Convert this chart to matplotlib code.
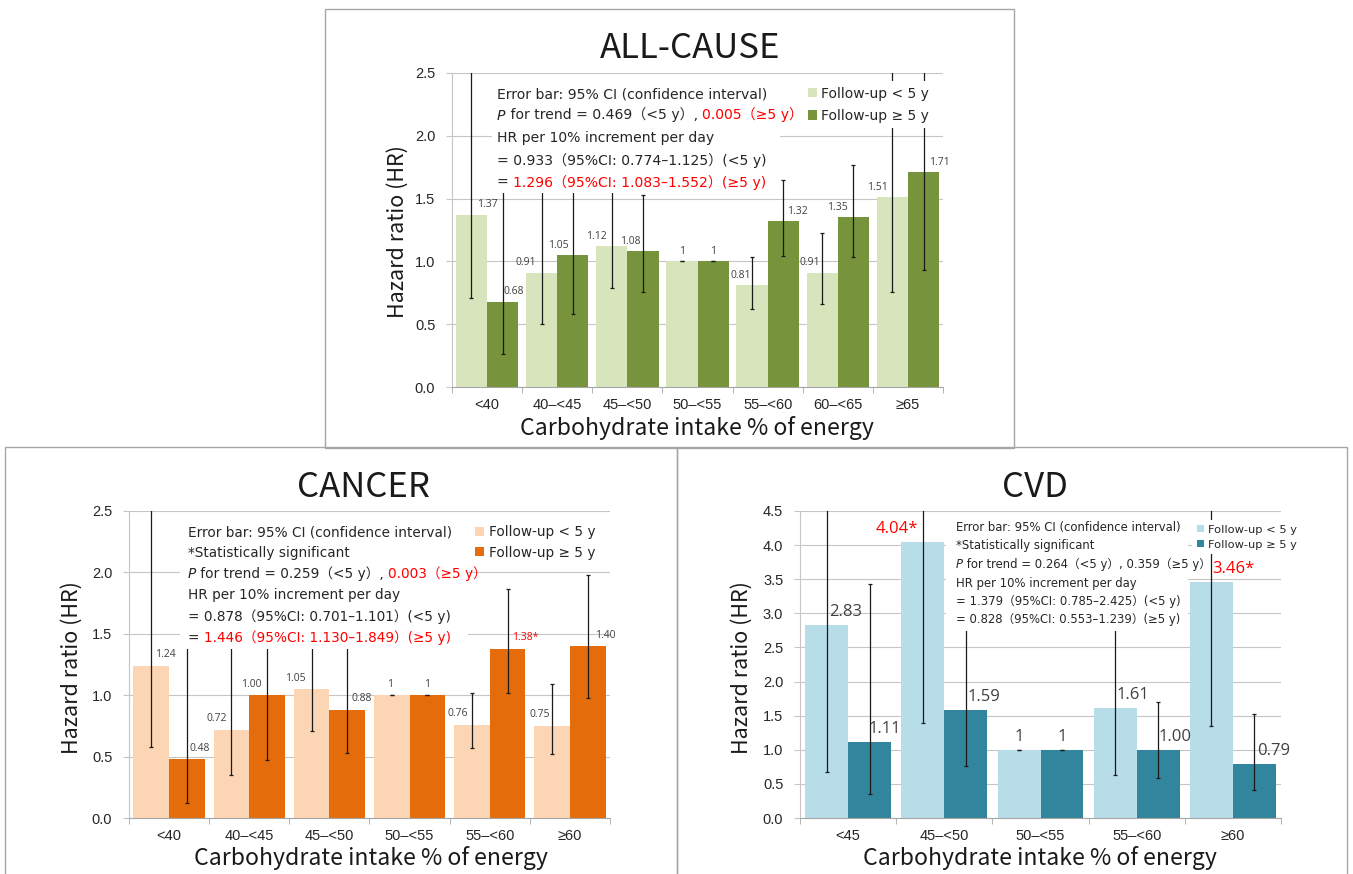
import matplotlib
matplotlib.use('Agg')
import matplotlib.pyplot as plt
from matplotlib.patches import Rectangle
import numpy as np

plt.rcParams['font.family'] = ['Noto Sans CJK JP', 'DejaVu Sans']

W, H = 1353, 874

# ---------------- data ----------------
# all-cause mortality
cats_all = ['<40', '40–<45', '45–<50', '50–<55', '55–<60', '60–<65', '≥65']
hr_all_s = [1.37, 0.91, 1.12, 1.00, 0.81, 0.91, 1.51]
lo_all_s = [0.705, 0.50, 0.785, 1.00, 0.625, 0.66, 0.76]
hi_all_s = [2.65, 1.65, 1.62, 1.00, 1.035, 1.23, 3.00]
hr_all_l = [0.68, 1.05, 1.08, 1.00, 1.32, 1.35, 1.71]
lo_all_l = [0.26, 0.58, 0.755, 1.00, 1.045, 1.035, 0.93]
hi_all_l = [1.78, 1.90, 1.525, 1.00, 1.645, 1.765, 3.15]
sig_all_s = [False] * 7
sig_all_l = [False] * 7

# cancer mortality
cats_can = ['<40', '40–<45', '45–<50', '50–<55', '55–<60', '≥60']
hr_can_s = [1.24, 0.72, 1.05, 1.00, 0.76, 0.75]
lo_can_s = [0.58, 0.35, 0.71, 1.00, 0.57, 0.52]
hi_can_s = [2.65, 1.48, 1.55, 1.00, 1.02, 1.09]
hr_can_l = [0.48, 1.00, 0.88, 1.00, 1.38, 1.40]
lo_can_l = [0.12, 0.47, 0.53, 1.00, 1.02, 0.975]
hi_can_l = [1.90, 2.12, 1.46, 1.00, 1.865, 1.98]
sig_can_s = [False] * 6
sig_can_l = [False, False, False, False, True, False]

# cardiovascular mortality
cats_cvd = ['<45', '45–<50', '50–<55', '55–<60', '≥60']
hr_cvd_s = [2.83, 4.04, 1.00, 1.61, 3.46]
lo_cvd_s = [0.67, 1.39, 1.00, 0.63, 1.355]
hi_cvd_s = [11.9, 11.7, 1.00, 4.11, 8.80]
hr_cvd_l = [1.11, 1.59, 1.00, 1.00, 0.79]
lo_cvd_l = [0.355, 0.755, 1.00, 0.585, 0.405]
hi_cvd_l = [3.425, 3.35, 1.00, 1.70, 1.52]
sig_cvd_s = [False, True, False, False, True]
sig_cvd_l = [False] * 5

legend_labels = ['Follow-up < 5 y', 'Follow-up ≥ 5 y']

# where each value label sits along its bar (0 = left edge, 1 = right edge)
pos_all_s = [1.0, 0.0, 0.0, 0.5, 0.15, 0.1, 0.03]
pos_all_l = [0.85, 0.05, 0.1, 0.5, 0.95, 0.0, 1.0]
pos_can_s = [0.9, 0.1, 0.05, 0.45, 0.1, 0.15]
pos_can_l = [0.85, 0.05, 0.9, 0.5, 1.0, 1.0]
pos_cvd_s = [0.95, -0.12, 0.5, 0.9, 1.0]
pos_cvd_l = [0.85, 0.93, 0.5, 0.9, 0.95]

RED = '#ff0000'
TXT = '#262626'
GRID = '#c6c6c6'
NOTE = ['DejaVu Sans', 'Noto Sans CJK JP']
LBL = ['Open Sans', 'Noto Sans CJK JP', 'DejaVu Sans']
TICK = ['Liberation Sans', 'DejaVu Sans']

fig = plt.figure(figsize=(W / 100, H / 100), dpi=100)


def fx(x):
    return x / W


def fy(y):
    return 1 - y / H


def box(x0, y0, x1, y1):
    return [x0 / W, 1 - y1 / H, (x1 - x0) / W, (y1 - y0) / H]


# panel frames
for x0, y0, x1, y1 in [(325, 9, 1014, 448), (5, 447, 677, 890), (677, 447, 1347, 890)]:
    fig.patches.append(Rectangle((fx(x0), fy(y1)), (x1 - x0) / W, (y1 - y0) / H,
                                 transform=fig.transFigure, fill=False,
                                 edgecolor='#a6a6a6', lw=1.0, zorder=0))


def draw_panel(ax, cats, hr_s, lo_s, hi_s, hr_l, lo_l, hi_l, sig_s, sig_l,
               pos_s, pos_l, c_light, c_dark, ymax, lbl_size, lbl_dy):
    n = len(cats)
    x = np.arange(n)
    w = 0.445
    b1 = ax.bar(x - w / 2, hr_s, w, color=c_light, zorder=2, label=legend_labels[0])
    b2 = ax.bar(x + w / 2, hr_l, w, color=c_dark, zorder=2, label=legend_labels[1])
    for xs, hr, lo, hi in [(x - w / 2, hr_s, lo_s, hi_s), (x + w / 2, hr_l, lo_l, hi_l)]:
        hr = np.array(hr)
        ax.errorbar(xs, hr, yerr=[hr - np.array(lo), np.array(hi) - hr], fmt='none',
                    ecolor='#1a1a1a', elinewidth=0.9, capsize=1.6, capthick=0.9, zorder=3)

    # value labels
    for xs, hr, lo, hi, sig, pos in [(x - w / 2, hr_s, lo_s, hi_s, sig_s, pos_s),
                                     (x + w / 2, hr_l, lo_l, hi_l, sig_l, pos_l)]:
        for xi, v, a, b, s, p in zip(xs, hr, lo, hi, sig, pos):
            if a == b == v == 1.0:
                t = '1'
            else:
                t = f'{v:.2f}' + ('*' if s else '')
            ax.annotate(t, (xi - w / 2 + p * w, v), xytext=(0, lbl_dy),
                        textcoords='offset pixels', ha='center', va='center',
                        fontsize=lbl_size, color=RED if s else '#404040',
                        family=LBL, zorder=4)

    ax.set_xlim(-0.5, n - 0.5)
    ax.set_ylim(0, ymax)
    ax.set_xticks(x)
    ax.set_xticklabels(cats, family=TICK)
    ax.set_xticks(np.arange(-0.5, n, 1), minor=True)
    ax.tick_params(axis='x', which='major', length=0, pad=8, labelsize=10.5,
                   labelcolor=TXT)
    ax.tick_params(axis='x', which='minor', length=4, color='#a6a6a6')
    yt = np.arange(0, ymax + 0.01, 0.5)
    ax.set_yticks(yt)
    ax.set_yticklabels([f'{t:.1f}' for t in yt], family=TICK)
    ax.tick_params(axis='y', length=4, color=GRID, pad=8, labelsize=10.5, labelcolor=TXT)
    ax.yaxis.grid(True, color=GRID, lw=0.8, zorder=0)
    ax.set_axisbelow(True)
    ax.spines['top'].set_visible(False)
    ax.spines['right'].set_visible(False)
    ax.spines['left'].set_color(GRID)
    ax.spines['bottom'].set_color('#a6a6a6')
    return b1, b2


def note(ax, x0, y0, x1, y1, tx, rows, lines, size):
    # white block behind the notes, covering grid and error bars
    ax.add_patch(Rectangle((fx(x0), fy(y1)), (x1 - x0) / W, (y1 - y0) / H,
                           transform=fig.transFigure, facecolor='white',
                           edgecolor='none', zorder=4, clip_on=False))
    for y, parts in zip(rows, lines):
        prev = None
        for txt, col, ital in parts:
            kw = dict(fontsize=size, color=col, zorder=5, annotation_clip=False,
                      family=NOTE)
            if ital:
                kw.update(style='italic')
            if prev is None:
                prev = ax.annotate(txt, (fx(tx), fy(y)), xycoords='figure fraction',
                                   ha='left', va='center', **kw)
            else:
                prev = ax.annotate(txt, (1, 0), xycoords=prev, ha='left',
                                   va='bottom', **kw)


def legend(ax, handles, x, y, size, spacing):
    leg = ax.legend(handles=handles, loc='upper left', bbox_to_anchor=(fx(x), fy(y)),
                    bbox_transform=fig.transFigure, frameon=True, fancybox=False,
                    facecolor='white', edgecolor='none', framealpha=1,
                    prop={'family': NOTE, 'size': size}, handlelength=0.65,
                    handleheight=0.65, handletextpad=0.35, labelspacing=spacing,
                    borderpad=0.4, borderaxespad=0)
    for t in leg.get_texts():
        t.set_color(TXT)
    leg.set_zorder(6)


# ---------------- ALL-CAUSE ----------------
ax1 = fig.add_axes(box(452, 73, 943, 387))
h = draw_panel(ax1, cats_all, hr_all_s, lo_all_s, hi_all_s, hr_all_l, lo_all_l, hi_all_l,
               sig_all_s, sig_all_l, pos_all_s, pos_all_l, '#d8e4bc', '#77933c',
               2.5, 7.5, 10)
note(ax1, 492, 80, 780, 193, 497, [94, 115.5, 138, 160, 182.5], [
    [('Error bar: 95% CI (confidence interval)', TXT, False)],
    [('P', TXT, True), (' for trend = 0.469（<5 y）, ', TXT, False), ('0.005（≥5 y）', RED, False)],
    [('HR per 10% increment per day', TXT, False)],
    [('= 0.933（95%CI: 0.774–1.125）(<5 y)', TXT, False)],
    [('= ', TXT, False), ('1.296（95%CI: 1.083–1.552）(≥5 y)', RED, False)],
], 10.1)
legend(ax1, h, 802, 81, 10, 0.6)
fig.text(fx(690), fy(48), 'ALL-CAUSE', ha='center', va='center', fontsize=25, color='#1a1a1a')
fig.text(fx(398), fy(232), 'Hazard ratio (HR)', rotation=90, ha='center', va='center',
         fontsize=15.5, color='#1a1a1a')
fig.text(fx(697), fy(428), 'Carbohydrate intake % of energy', ha='center', va='center',
         fontsize=16.6, color='#1a1a1a')

# ---------------- CANCER ----------------
ax2 = fig.add_axes(box(129, 511, 610, 818))
h = draw_panel(ax2, cats_can, hr_can_s, lo_can_s, hi_can_s, hr_can_l, lo_can_l, hi_can_l,
               sig_can_s, sig_can_l, pos_can_s, pos_can_l, '#fcd5b5', '#e46c0a',
               2.5, 7.5, 11)
note(ax2, 180, 518, 468, 649, 188, [532, 553, 574, 595.5, 617, 638], [
    [('Error bar: 95% CI (confidence interval)', TXT, False)],
    [('*Statistically significant', TXT, False)],
    [('P', TXT, True), (' for trend = 0.259（<5 y）, ', TXT, False), ('0.003（≥5 y）', RED, False)],
    [('HR per 10% increment per day', TXT, False)],
    [('= 0.878（95%CI: 0.701–1.101）(<5 y)', TXT, False)],
    [('= ', TXT, False), ('1.446（95%CI: 1.130–1.849）(≥5 y)', RED, False)],
], 9.8)
legend(ax2, h, 470, 520, 9.8, 0.45)
fig.text(fx(363), fy(487), 'CANCER', ha='center', va='center', fontsize=25, color='#1a1a1a')
fig.text(fx(72), fy(668), 'Hazard ratio (HR)', rotation=90, ha='center', va='center',
         fontsize=15.5, color='#1a1a1a')
fig.text(fx(371), fy(858), 'Carbohydrate intake % of energy', ha='center', va='center',
         fontsize=16.6, color='#1a1a1a')

# ---------------- CVD ----------------
ax3 = fig.add_axes(box(800, 511, 1281, 818))
h = draw_panel(ax3, cats_cvd, hr_cvd_s, lo_cvd_s, hi_cvd_s, hr_cvd_l, lo_cvd_l, hi_cvd_l,
               sig_cvd_s, sig_cvd_l, pos_cvd_s, pos_cvd_l, '#b7dde8', '#31859c',
               4.5, 12, 13)
note(ax3, 946, 516, 1188, 631, 956, [528, 546, 564.5, 583, 601.5, 620], [
    [('Error bar: 95% CI (confidence interval)', TXT, False)],
    [('*Statistically significant', TXT, False)],
    [('P', TXT, True), (' for trend = 0.264（<5 y）, 0.359（≥5 y）', TXT, False)],
    [('HR per 10% increment per day', TXT, False)],
    [('= 1.379（95%CI: 0.785–2.425）(<5 y)', TXT, False)],
    [('= 0.828（95%CI: 0.553–1.239）(≥5 y)', TXT, False)],
], 8.4)
legend(ax3, h, 1192, 520, 8.2, 0.45)
fig.text(fx(1035), fy(487), 'CVD', ha='center', va='center', fontsize=25, color='#1a1a1a')
fig.text(fx(742), fy(668), 'Hazard ratio (HR)', rotation=90, ha='center', va='center',
         fontsize=15.5, color='#1a1a1a')
fig.text(fx(1040), fy(858), 'Carbohydrate intake % of energy', ha='center', va='center',
         fontsize=16.6, color='#1a1a1a')

fig.savefig('out.png', dpi=100)
